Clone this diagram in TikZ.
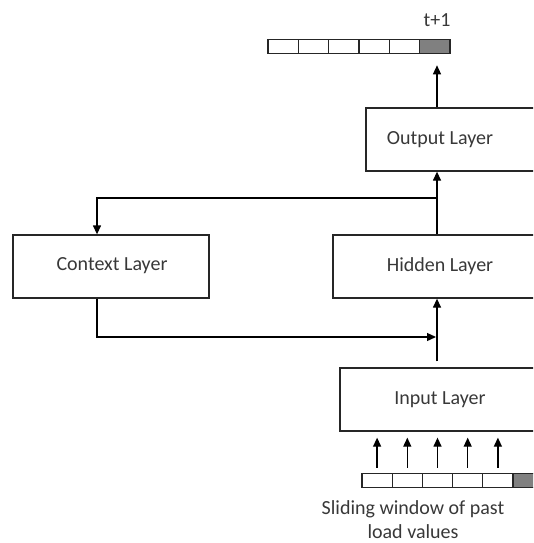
\documentclass[tikz,border=0pt]{standalone}
\usepackage{fontspec}
\setmainfont{Carlito}
\usetikzlibrary{arrows.meta}
\begin{document}
\begin{tikzpicture}[x=1pt,y=-1pt,
  box/.style={draw=black!85, line width=1.3pt, minimum height=63pt, inner sep=0pt},
  lbl/.style={text=black!78, font=\fontsize{20}{24}\selectfont, inner sep=0pt},
  cell/.style={draw=black!85, line width=1.1pt, minimum width=30.3pt, minimum height=14.5pt, inner sep=0pt, fill=white},
  greycell/.style={cell, fill=black!50},
  arr/.style={line width=1.3pt, -{Triangle[length=9pt,width=8pt]}}]
\useasboundingbox (0,0) rectangle (533,543);
\clip (0,0) rectangle (533,543);

% layer boxes (right side cut by the picture edge)
\node[box, minimum width=179pt] (out) at (455.5,139.5) {};
\node[box, minimum width=196pt] (ctx) at (111,266.5) {};
\node[box, minimum width=212pt] (hid) at (439,266.5) {};
\node[box, minimum width=205pt] (inp) at (442.5,399.5) {};

\node[lbl] (outl) at (440,140) {Output Layer};
\node[lbl] (ctxl) at (112,266) {Context Layer};
\node[lbl] (hidl) at (440,266) {Hidden Layer};
\node[lbl] (inpl) at (440,400) {Input Layer};

% top strip
\foreach \i/\c in {1/cell,2/cell,3/cell,4/cell,5/cell,6/greycell}
  \node[\c] (t\i) at ({268+30.33*(\i-0.5)},46.5) {};
\node[lbl] (tp) at (437,20) {t+1};

% bottom strip
\foreach \i/\c in {1/cell,2/cell,3/cell,4/cell,5/cell,6/greycell}
  \node[\c] (b\i) at ({362+30.2*(\i-0.5)},480.5) {};
\node[lbl, align=center] (cap) at (413,520) {Sliding window of past\\load values};

% helper coordinates
\coordinate (col) at (437,0);
\coordinate (cx) at (97,0);
\coordinate (br) at (437,198);
\coordinate (mrg) at (437,337);

% connectors
\draw[arr, shorten >=11pt] (out.north -| col) -- (col |- t6.south);
\draw[arr] (hid.north -| col) -- (out.south -| col);
\draw[arr] (br) -| (cx |- ctx.north);
\draw[arr, shorten >=1pt] (cx |- ctx.south) |- (mrg);
\draw[arr, shorten <=6pt] (col |- inp.north) -- (col |- hid.south);
\foreach \i in {1,...,5}
  \draw[arr, shorten <=5pt, shorten >=6pt] (b\i.north) -- (b\i.north |- inp.south);
\end{tikzpicture}
\end{document}
